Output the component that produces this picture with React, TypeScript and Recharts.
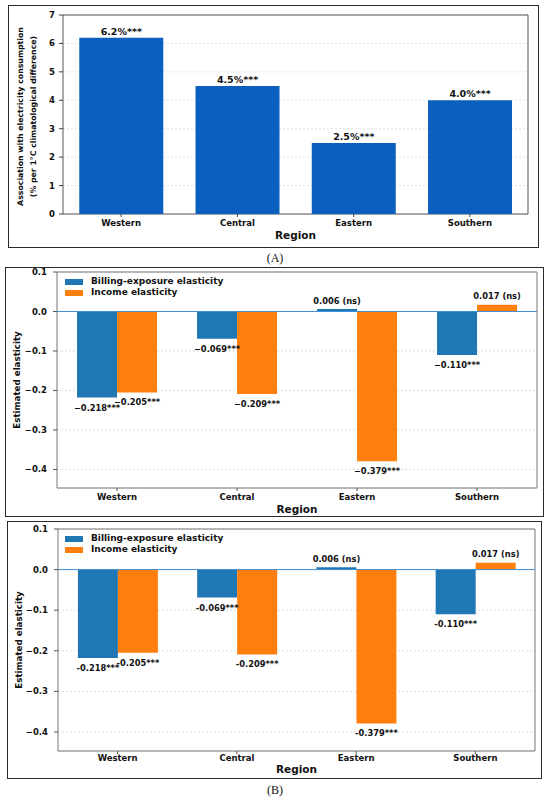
import React from 'react';
import {
  BarChart,
  Bar,
  XAxis,
  YAxis,
  CartesianGrid,
  ReferenceLine,
  ReferenceArea,
  LabelList,
  Label,
  Legend,
} from 'recharts';

// values
const regions = ['Western', 'Central', 'Eastern', 'Southern'];
const tempEffect = [6.2, 4.5, 2.5, 4.0];
const tempSig = ['***', '***', '***', '***'];
const billingElasticity = [-0.218, -0.069, 0.006, -0.11];
const incomeElasticity = [-0.205, -0.209, -0.379, 0.017];
const billingSig = ['***', '***', 'ns', '***'];
const incomeSig = ['***', '***', '***', 'ns'];
const tempTicks = [0, 1, 2, 3, 4, 5, 6, 7];
const elasticityTicks = [0.1, 0, -0.1, -0.2, -0.3, -0.4];
const elasticityDomain: [number, number] = [-0.447, 0.1];

const FONT = '"DejaVu Sans", sans-serif';
const TEXT = '#111';
const BLUE_A = '#0a5fbf';
const BLUE = '#1f77b4';
const ORANGE = '#ff7f0e';

const tempData = regions.map((region, i) => ({ region, value: tempEffect[i] }));
const elasticityData = regions.map((region, i) => ({
  region,
  billing: billingElasticity[i],
  income: incomeElasticity[i],
}));

const tempLabels = tempEffect.map((v, i) => `${v.toFixed(1)}%${tempSig[i]}`);
const fmtElasticity = (v: number, sig: string, minus: string) =>
  sig === 'ns' ? `${v.toFixed(3)} (ns)` : `${v < 0 ? minus : ''}${Math.abs(v).toFixed(3)}${sig}`;

const tickStyle = { fontFamily: FONT, fontWeight: 'bold', fontSize: 8.5, fill: TEXT };

const barLabel =
  (texts: string[], values: number[], below: number, above: number, size: number) => (p: any) => {
    const vb = p.viewBox || {};
    const x = Number(p.x ?? vb.x);
    const y = Number(p.y ?? vb.y);
    const w = Number(p.width ?? vb.width);
    const h = Number(p.height ?? vb.height);
    const i = p.index ?? values.indexOf(Number(p.value));
    const top = Math.min(y, y + h);
    const bottom = Math.max(y, y + h);
    const neg = values[i] < 0;
    return (
      <text
        x={x + w / 2}
        y={neg ? bottom + below : top - above}
        textAnchor="middle"
        fontFamily={FONT}
        fontWeight="bold"
        fontSize={size}
        fill={TEXT}
      >
        {texts[i]}
      </text>
    );
  };

const xTitle = (text: string, dy: number) => (p: any) => {
  const vb = p.viewBox || {};
  return (
    <text
      x={vb.x + vb.width / 2}
      y={vb.y + dy}
      textAnchor="middle"
      fontFamily={FONT}
      fontWeight="bold"
      fontSize={10.5}
      fill={TEXT}
    >
      {text}
    </text>
  );
};

const yTitle = (lines: string[], dxs: number[], size: number, shift = 0) => (p: any) => {
  const vb = p.viewBox || {};
  const cy = vb.y + vb.height / 2 + shift;
  return (
    <g>
      {lines.map((line, k) => {
        const x = vb.x + dxs[k];
        return (
          <text
            key={line}
            x={x}
            y={cy}
            transform={`rotate(-90, ${x}, ${cy})`}
            textAnchor="middle"
            dominantBaseline="central"
            fontFamily={FONT}
            fontWeight="bold"
            fontSize={size}
            fill={TEXT}
          >
            {line}
          </text>
        );
      })}
    </g>
  );
};

const legendContent = (p: any) => (
  <div style={{ fontFamily: FONT, fontWeight: 'bold', fontSize: 9, color: TEXT, lineHeight: '11px' }}>
    {(p.payload || []).map((item: any) => (
      <div key={item.value} style={{ display: 'flex', alignItems: 'center' }}>
        <span
          style={{ display: 'inline-block', width: 18, height: 6, background: item.color, marginRight: 8 }}
        />
        {item.value}
      </div>
    ))}
  </div>
);

interface ElasticityProps {
  top: number;
  height: number;
  margin: { top: number; right: number; bottom: number; left: number };
  minus: string;
  tickGap: number;
  titleDy: number;
  yTitleDx: number;
  legendTop: number;
}

const ElasticityChart: React.FC<ElasticityProps> = ({
  top,
  height,
  margin,
  minus,
  tickGap,
  titleDy,
  yTitleDx,
  legendTop,
}) => {
  const billingLabels = billingElasticity.map((v, i) => fmtElasticity(v, billingSig[i], minus));
  const incomeLabels = incomeElasticity.map((v, i) => fmtElasticity(v, incomeSig[i], minus));
  return (
    <div style={{ position: 'absolute', left: 0, top }}>
      <BarChart
        width={550}
        height={height}
        data={elasticityData}
        margin={margin}
        barCategoryGap="16.7%"
        barGap={0}
      >
        <CartesianGrid vertical={false} strokeDasharray="2 2" stroke="#dcdcdc" />
        <XAxis
          dataKey="region"
          height={28}
          axisLine={false}
          tickSize={3}
          tickMargin={tickGap}
          tickLine={{ stroke: '#555' }}
          tick={tickStyle}
        >
          <Label content={xTitle('Region', titleDy)} />
        </XAxis>
        <YAxis
          width={30}
          domain={elasticityDomain}
          ticks={elasticityTicks}
          allowDataOverflow
          axisLine={false}
          tickSize={4}
          tickMargin={6}
          tickLine={{ stroke: '#555' }}
          tick={tickStyle}
          tickFormatter={(v: number) => (v < 0 ? '\u2212' : '') + Math.abs(v).toFixed(1)}
        >
          <Label content={yTitle(['Estimated elasticity'], [yTitleDx], 8.7)} />
        </YAxis>
        <ReferenceArea
          y1={elasticityDomain[0]}
          y2={elasticityDomain[1]}
          fill="none"
          stroke="#777"
          strokeWidth={1}
        />
        <Legend
          layout="vertical"
          align="center"
          verticalAlign="middle"
          content={legendContent}
          wrapperStyle={{ left: 65, top: legendTop, width: 220, height: 24 }}
        />
        <Bar dataKey="billing" name="Billing-exposure elasticity" fill={BLUE} isAnimationActive={false}>
          <LabelList dataKey="billing" content={barLabel(billingLabels, billingElasticity, 13, 5.5, 8.3)} />
        </Bar>
        <Bar dataKey="income" name="Income elasticity" fill={ORANGE} isAnimationActive={false}>
          <LabelList dataKey="income" content={barLabel(incomeLabels, incomeElasticity, 13, 5.5, 8.3)} />
        </Bar>
        <ReferenceLine y={0} stroke="#3d8fd6" strokeWidth={1} />
      </BarChart>
    </div>
  );
};

const box = (left: number, top: number, width: number, height: number): React.CSSProperties => ({
  position: 'absolute',
  left,
  top,
  width,
  height,
  border: '1.5px solid #2a2a2a',
  boxSizing: 'border-box',
});

const caption = (top: number): React.CSSProperties => ({
  position: 'absolute',
  left: 0,
  width: 550,
  top,
  textAlign: 'center',
  fontFamily: '"Liberation Serif", serif',
  fontSize: 12,
  color: TEXT,
});

export default function App() {
  return (
    <div style={{ position: 'relative', width: 550, height: 800, background: '#fff' }}>
      <style>{'body{margin:0}'}</style>
      <div style={box(8, 5, 531, 243)} />
      <div style={box(5, 267, 539, 250)} />
      <div style={box(7, 521, 535, 258)} />

      <div style={{ position: 'absolute', left: 0, top: 0 }}>
        <BarChart
          width={550}
          height={260}
          data={tempData}
          margin={{ top: 15, right: 22, bottom: 16, left: 43 }}
          barCategoryGap="14%"
        >
          <CartesianGrid vertical={false} strokeDasharray="2 2" stroke="#e2e2e2" />
          <XAxis
            dataKey="region"
            height={30}
            axisLine={false}
            tickSize={3}
            tickMargin={3}
            tickLine={{ stroke: '#444' }}
            tick={tickStyle}
          >
            <Label content={xTitle('Region', 24.5)} />
          </XAxis>
          <YAxis
            width={20}
            domain={[0, 7]}
            ticks={tempTicks}
            axisLine={false}
            tickSize={4}
            tickMargin={4}
            tickLine={{ stroke: '#444' }}
            tick={tickStyle}
          >
            <Label
              content={yTitle(
                ['Association with electricity consumption', '(% per 1\u00b0C climatological difference)'],
                [-23, -10],
                7.8,
                2,
              )}
            />
          </YAxis>
          <ReferenceArea y1={0} y2={7} fill="none" stroke="#555" strokeWidth={1} />
          <Bar dataKey="value" fill={BLUE_A} isAnimationActive={false}>
            <LabelList dataKey="value" content={barLabel(tempLabels, tempEffect, 12, 3, 9.5)} />
          </Bar>
        </BarChart>
      </div>
      <div style={caption(251)}>(A)</div>

      <ElasticityChart
        top={262}
        height={260}
        margin={{ top: 10, right: 13, bottom: 6, left: 27 }}
        minus={'\u2212'}
        tickGap={3}
        titleDy={24.5}
        yTitleDx={-10}
        legendTop={14}
      />

      <ElasticityChart
        top={516}
        height={264}
        margin={{ top: 13, right: 15, bottom: 1, left: 28 }}
        minus="-"
        tickGap={1}
        titleDy={21.5}
        yTitleDx={-9}
        legendTop={17}
      />
      <div style={caption(783)}>(B)</div>
    </div>
  );
}
